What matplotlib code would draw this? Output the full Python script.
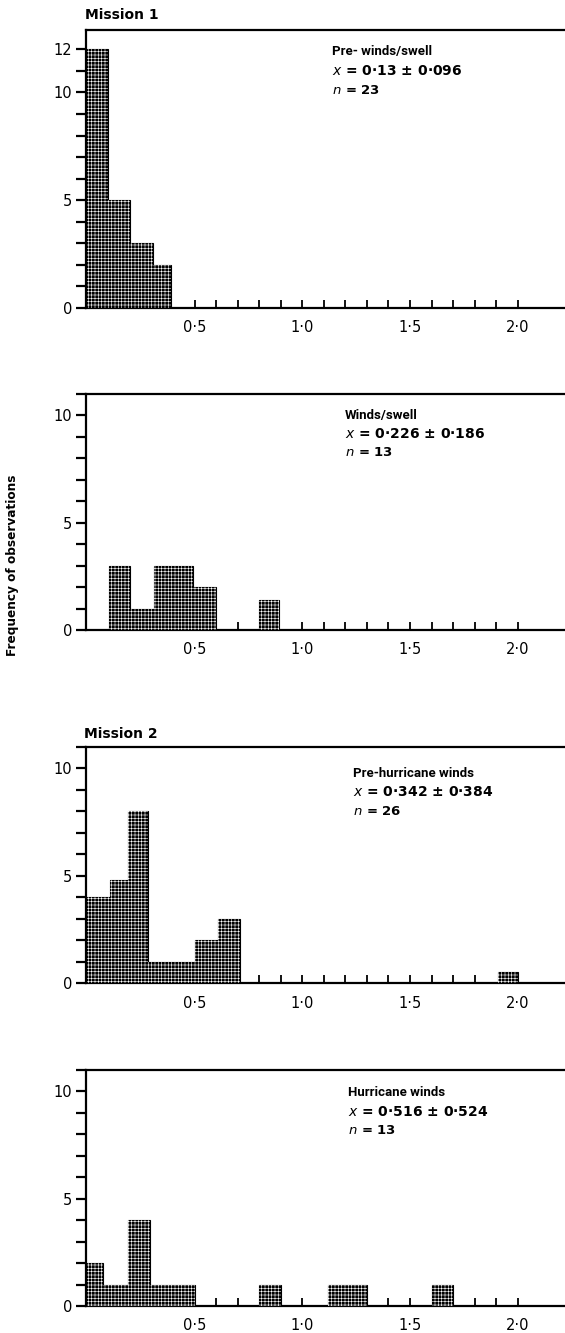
import matplotlib
matplotlib.use("Agg")
import matplotlib.pyplot as plt
import numpy as np
from matplotlib.ticker import FixedLocator, MultipleLocator

plt.rcParams['font.family'] = ['DejaVu Sans']
plt.rcParams['mathtext.fontset'] = 'dejavusans'
plt.rcParams['hatch.linewidth'] = 0.4

TITLE_FONT = dict(family=['Roboto', 'DejaVu Sans'], fontsize=9.5)

# ---------------- data ----------------
# Panel 1: Mission 1, pre-winds/swell
p1_edges = [0.0, 0.098, 0.2, 0.307, 0.39]
p1_counts = [12, 5, 3, 2]
# Panel 2: winds/swell
p2_edges = [0.10, 0.20, 0.31, 0.49, 0.60]
p2_counts = [3, 1, 3, 2]
p2b_edges = [0.80, 0.89]
p2b_counts = [1.4]
# Panel 3: Mission 2, pre-hurricane winds
p3_edges = [0.0, 0.107, 0.19, 0.284, 0.50, 0.61, 0.71]
p3_counts = [4, 4.8, 8, 1, 2, 3]
p3b_edges = [1.91, 2.0]
p3b_counts = [0.5]
# Panel 4: hurricane winds
p4_edges = [0.0, 0.075, 0.19, 0.29, 0.50]
p4_counts = [2, 1, 4, 1]
p4_extra_left = [0.80, 1.12, 1.60]
p4_extra_right = [0.90, 1.30, 1.70]
p4_extra_counts = [1, 1, 1]

titles = ["Pre- winds/swell", "Winds/swell", "Pre-hurricane winds", "Hurricane winds"]
means = ["0·13", "0·226", "0·342", "0·516"]
sds = ["0·096", "0·186", "0·384", "0·524"]
ns = [23, 13, 26, 13]
xtick_vals = [0.5, 1.0, 1.5, 2.0]
xtick_labels = ["0·5", "1·0", "1·5", "2·0"]
xminor_vals = [round(0.1 * k, 1) for k in range(1, 21)]

W, H = 565, 1333
fig = plt.figure(figsize=(W / 100, H / 100), dpi=100)

def fx(px):
    return px / W

def fy(py):
    return 1 - py / H

# axes boxes in pixels: (top, bottom)
boxes = [(30, 308), (394, 630), (747, 983), (1070, 1306)]
ytops = [12.9, 11.0, 11.0, 11.0]
left_px = 86

spans = [[] for _ in range(4)]

def bars(ax, idx, lefts, widths, counts):
    ax.bar(lefts, counts, width=widths, align='edge', color='black',
           edgecolor='black', linewidth=0.8, zorder=2)
    ax.bar(lefts, counts, width=widths, align='edge', fill=False,
           hatch='+++++', edgecolor='white', linewidth=0, zorder=3)
    for l, w in zip(lefts, widths):
        spans[idx].append((l, l + w))

def bars_from_edges(ax, idx, edges, counts):
    edges = np.asarray(edges, float)
    bars(ax, idx, edges[:-1], np.diff(edges), counts)

axes = []
for i, (top, bot) in enumerate(boxes):
    ax = fig.add_axes([fx(left_px), fy(bot), 1 - fx(left_px), (bot - top) / H])
    axes.append(ax)
    ax.set_xlim(-0.005, 2.22)
    ax.set_ylim(0, ytops[i])
    ax.set_axisbelow(True)
    for s in ['left', 'top', 'bottom']:
        ax.spines[s].set_linewidth(1.6)
    ax.spines['right'].set_visible(False)

bars_from_edges(axes[0], 0, p1_edges, p1_counts)
bars_from_edges(axes[1], 1, p2_edges, p2_counts)
bars_from_edges(axes[1], 1, p2b_edges, p2b_counts)
bars_from_edges(axes[2], 2, p3_edges, p3_counts)
bars_from_edges(axes[2], 2, p3b_edges, p3b_counts)
bars_from_edges(axes[3], 3, p4_edges, p4_counts)
bars(axes[3], 3, p4_extra_left, np.subtract(p4_extra_right, p4_extra_left), p4_extra_counts)

for i, ax in enumerate(axes):
    visible = [t for t in xminor_vals
               if not any(l - 0.025 <= t <= r + 0.025 for l, r in spans[i])]
    ax.xaxis.remove_overlapping_locs = False
    ax.xaxis.set_major_locator(FixedLocator(xtick_vals))
    ax.set_xticklabels(xtick_labels)
    ax.xaxis.set_minor_locator(FixedLocator(visible))
    ax.tick_params(axis='x', which='major', length=0, labelsize=10.5, pad=9)
    ax.tick_params(axis='x', which='minor', direction='in', length=6, width=1.3)
    if i == 0:
        ax.yaxis.set_major_locator(FixedLocator([0, 5, 10, 12]))
    else:
        ax.yaxis.set_major_locator(FixedLocator([0, 5, 10]))
    ax.yaxis.set_minor_locator(MultipleLocator(1))
    ax.tick_params(axis='y', which='both', direction='out', length=7, width=1.6,
                   labelsize=10.5, pad=3)

# annotations
text_pos = [(332, 52), (345, 415), (353, 773), (348, 1093)]
for i, (tx, ty) in enumerate(text_pos):
    fig.text(fx(tx), fy(ty), titles[i], fontweight='bold', va='center', ha='left',
             **TITLE_FONT)
    fig.text(fx(tx), fy(ty + 19), r"$x$" + f" = {means[i]} ± {sds[i]}",
             fontsize=10, va='center', ha='left', fontweight='bold')
    fig.text(fx(tx), fy(ty + 38), r"$n$" + f" = {ns[i]}",
             fontsize=9.5, va='center', ha='left', fontweight='bold')

fig.text(fx(85), fy(15), "Mission 1", fontsize=10, fontweight='bold', va='center', ha='left')
fig.text(fx(84), fy(734), "Mission 2", fontsize=10, fontweight='bold', va='center', ha='left')
fig.text(fx(13), fy(565), "Frequency of observations", fontsize=8.7, fontweight='bold',
         rotation=90, va='center', ha='center')

fig.savefig("out.png", dpi=100)
